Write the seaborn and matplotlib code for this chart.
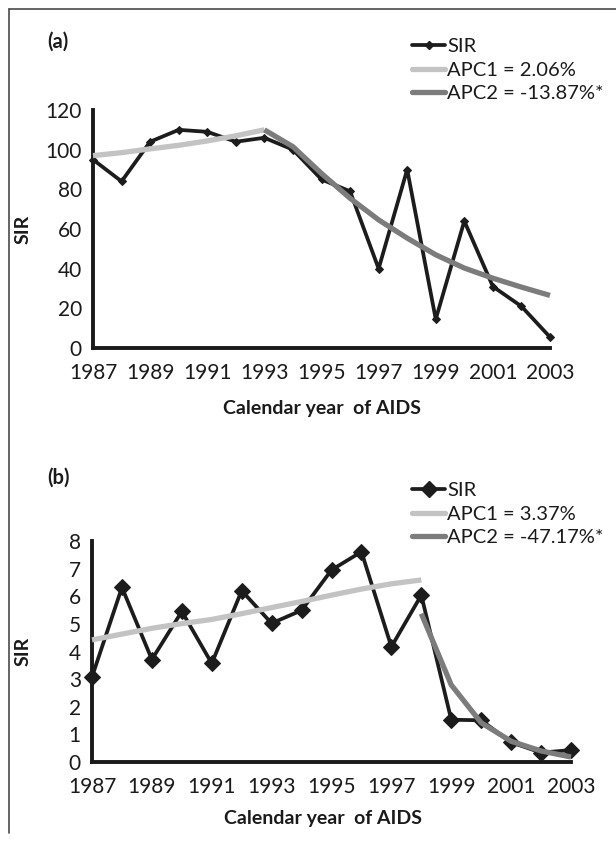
import matplotlib
matplotlib.use("Agg")
import matplotlib.pyplot as plt
import seaborn as sns
import pandas as pd
from matplotlib.lines import Line2D

years = list(range(1987, 2004))

# Panel (a)
sir_a = [95, 84, 104, 110, 109, 104, 106, 100, 85, 79, 40, 90, 14.5, 64, 31, 21, 5.5]
apc1_a_years = list(range(1987, 1994))
apc1_a = [97, 98.5, 100.4, 102.2, 104.4, 107, 110]
apc2_a_years = list(range(1993, 2004))
apc2_a = [110, 101.5, 88, 75.5, 64.6, 55.4, 47, 40.3, 35.2, 30.7, 26.5]
labels_a = ["SIR", "APC1 = 2.06%", "APC2 = -13.87%*"]

# Panel (b)
sir_b = [3.08, 6.32, 3.71, 5.45, 3.57, 6.2, 5.02, 5.49, 6.95, 7.61, 4.17, 6.04, 1.53, 1.51, 0.71, 0.34, 0.43]
apc1_b_years = list(range(1987, 1999))
apc1_b = [4.42, 4.63, 4.84, 5.01, 5.16, 5.37, 5.59, 5.81, 6.04, 6.26, 6.45, 6.59]
apc2_b_years = list(range(1998, 2004))
apc2_b = [5.37, 2.79, 1.42, 0.75, 0.40, 0.18]
labels_b = ["SIR", "APC1 = 3.37%", "APC2 = -47.17%*"]

xticks = list(range(1987, 2004, 2))
yticks_a = [0, 20, 40, 60, 80, 100, 120]
yticks_b = [0, 1, 2, 3, 4, 5, 6, 7, 8]

sns.set_style("white")
plt.rcParams["font.family"] = ["Lato", "DejaVu Sans"]

W, H = 616, 842
fig = plt.figure(figsize=(W / 100, H / 100), dpi=100)

C_SIR = "#1c1c1c"
C_APC1 = "#c3c3c3"
C_APC2 = "#7c7c7c"
FS = 15
FS_LEG = 14.5
LW_SIR = 2.7
LW_APC = 3.8


def rect(l, t, r, b):
    return [l / W, 1 - b / H, (r - l) / W, (b - t) / H]


def panel(ax, sir, a1x, a1, a2x, a2, labels, yticks, ymax, msize, leg_top, tag, tag_y):
    df = pd.DataFrame({"year": years, "SIR": sir})
    sns.lineplot(data=df, x="year", y="SIR", ax=ax, color=C_SIR, linewidth=LW_SIR,
                 marker="D", markersize=msize, markeredgecolor=C_SIR, zorder=3, legend=False)
    d1 = pd.DataFrame({"year": a1x, "v": a1})
    sns.lineplot(data=d1, x="year", y="v", ax=ax, color=C_APC1, linewidth=LW_APC, zorder=4,
                 legend=False, solid_capstyle="butt")
    d2 = pd.DataFrame({"year": a2x, "v": a2})
    sns.lineplot(data=d2, x="year", y="v", ax=ax, color=C_APC2, linewidth=LW_APC, zorder=5,
                 legend=False, solid_capstyle="butt")
    ax.set_xlim(1987, 2003)
    ax.set_ylim(0, ymax)
    ax.set_xticks(xticks)
    ax.set_xticklabels([str(t) for t in xticks])
    ax.set_yticks(yticks)
    ax.set_yticklabels([str(t) for t in yticks])
    for s in ["top", "right"]:
        ax.spines[s].set_visible(False)
    for s in ["left", "bottom"]:
        ax.spines[s].set_linewidth(2.8)
        ax.spines[s].set_color("#1a1a1a")
    ax.tick_params(axis="both", which="major", direction="out", length=3, width=2.2,
                   color="#1a1a1a", labelsize=FS, labelcolor="#1a1a1a")
    ax.tick_params(axis="x", pad=8)
    ax.tick_params(axis="y", pad=5)
    ax.set_xlabel("Calendar year  of AIDS", fontsize=14, fontweight="bold", color="#1a1a1a")
    ax.set_ylabel("SIR", fontsize=14, fontweight="bold", color="#1a1a1a")
    ax.patch.set_alpha(0)
    for ln in ax.lines:
        ln.set_clip_on(False)

    handles = [
        Line2D([], [], color=C_SIR, linewidth=LW_SIR, marker="D", markersize=msize),
        Line2D([], [], color=C_APC1, linewidth=LW_APC),
        Line2D([], [], color=C_APC2, linewidth=LW_APC),
    ]
    fig.legend(handles, labels, loc="upper left", bbox_to_anchor=(412 / W, 1 - leg_top / H),
               frameon=False, fontsize=FS_LEG, handlelength=1.65, handletextpad=0.1,
               labelspacing=0.32, borderpad=0, borderaxespad=0, markerscale=1.0,
               labelcolor="#1a1a1a")
    fig.text(47 / W, 1 - tag_y / H, tag, fontsize=14.5, fontweight="bold", va="center",
             ha="left", color="#1a1a1a")
    return ax


ax1 = fig.add_axes(rect(93, 110, 550, 348))
panel(ax1, sir_a, apc1_a_years, apc1_a, apc2_a_years, apc2_a, labels_a, yticks_a, 120, 4.5,
      38, "(a)", 42)
ax1.xaxis.set_label_coords((322 - 93) / (550 - 93), -(400 - 348) / (348 - 110))
ax1.yaxis.set_label_coords(-(93 - 32) / (550 - 93), 0.5)

ax2 = fig.add_axes(rect(92, 541, 571, 762))
panel(ax2, sir_b, apc1_b_years, apc1_b, apc2_b_years, apc2_b, labels_b, yticks_b, 8, 8,
      482, "(b)", 478)
ax2.xaxis.set_label_coords((323 - 92) / (571 - 92), -(810 - 762) / (762 - 541))
ax2.yaxis.set_label_coords(-(92 - 32) / (571 - 92), 0.5)

# outer frame (left and top edges)
fig.add_artist(Line2D([9 / W, 9 / W], [1 - 833 / H, 1 - 9 / H], color="#4a4a4a", linewidth=1.2,
                      transform=fig.transFigure))
fig.add_artist(Line2D([9 / W, 1.0], [1 - 9 / H, 1 - 9 / H], color="#4a4a4a", linewidth=1.2,
                      transform=fig.transFigure))

fig.savefig("out.png", dpi=100, facecolor="white")
